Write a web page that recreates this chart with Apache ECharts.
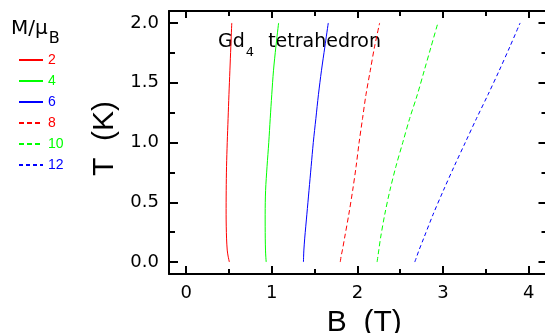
<!DOCTYPE html>
<html>
<head>
<meta charset="utf-8">
<script src="https://cdn.jsdelivr.net/npm/echarts@6/dist/echarts.min.js"></script>
<style>html,body{margin:0;padding:0;background:#fff}#c{width:545px;height:333px}</style>
</head>
<body>
<div id="c"></div>
<script>
// Temperature (K) sampling points (y values)
const temperatureK = [0, 0.05, 0.1, 0.2, 0.4, 0.6, 0.8, 1.0, 1.2, 1.4, 1.6, 1.8, 2.0];
// Field B (T) at which magnetization reaches M/muB
const fieldM2  = [0.505, 0.49, 0.48, 0.472, 0.467, 0.468, 0.472, 0.48, 0.49, 0.50, 0.511, 0.522, 0.533];
const fieldM4  = [0.935, 0.93, 0.927, 0.924, 0.923, 0.928, 0.945, 0.965, 0.982, 1.0, 1.02, 1.048, 1.08];
const fieldM6  = [1.37, 1.372, 1.375, 1.385, 1.41, 1.435, 1.46, 1.485, 1.515, 1.545, 1.58, 1.62, 1.66];
const fieldM8  = [1.80, 1.81, 1.825, 1.85, 1.90, 1.945, 1.985, 2.02, 2.06, 2.10, 2.15, 2.20, 2.26];
const fieldM10 = [2.23, 2.24, 2.25, 2.27, 2.32, 2.38, 2.45, 2.53, 2.61, 2.70, 2.78, 2.86, 2.94];
const fieldM12 = [2.67, 2.695, 2.72, 2.775, 2.885, 3.005, 3.13, 3.26, 3.39, 3.525, 3.655, 3.78, 3.90];

const seriesNames = ['2', '4', '6', '8', '10', '12'];
const xMajorTicks = [0, 1, 2, 3, 4];
const xMinorTicks = [0.5, 1.5, 2.5, 3.5];
const yMajorTicks = [0, 0.5, 1.0, 1.5, 2.0];
const yMinorTicks = [0.25, 0.75, 1.25, 1.75];

const fields = [fieldM2, fieldM4, fieldM6, fieldM8, fieldM10, fieldM12];
const colors = ['#ff0000', '#00ff00', '#0000ff', '#ff0000', '#00ff00', '#0000ff'];
const dashes = ['solid', 'solid', 'solid', [5, 3], [5, 3], [4, 3]];

const X_MIN = -0.2, X_MAX = 4.22, Y_MIN = -0.1, Y_MAX = 2.1;
const NUM_FONT = 'DejaVu Sans';
const NARROW_FONT = "'Liberation Sans Narrow', 'Liberation Sans', sans-serif";

function xAxisDef(pos, ticks, len, showLabel, showLine, name) {
  const a = {
    type: 'value', position: pos, min: X_MIN, max: X_MAX,
    axisLine: { show: showLine, onZero: false, lineStyle: { color: '#000', width: 2 } },
    axisTick: { show: true, inside: true, length: len, customValues: ticks, lineStyle: { color: '#000', width: 2 } },
    axisLabel: { show: showLabel, customValues: xMajorTicks, margin: 10, color: '#000',
      fontFamily: NUM_FONT, fontSize: 18, formatter: v => String(v) },
    splitLine: { show: false }
  };
  if (name) {
    a.name = name; a.nameLocation = 'middle'; a.nameGap = 34;
    a.nameTextStyle = { fontFamily: NARROW_FONT, fontSize: 30, color: '#000', padding: [0, 0, 0, 12] };
  }
  return a;
}
function yAxisDef(pos, ticks, len, showLabel, showLine, name) {
  const a = {
    type: 'value', position: pos, min: Y_MIN, max: Y_MAX,
    axisLine: { show: showLine, onZero: false, lineStyle: { color: '#000', width: 2 } },
    axisTick: { show: true, inside: true, length: len, customValues: ticks, lineStyle: { color: '#000', width: 2 } },
    axisLabel: { show: showLabel, customValues: yMajorTicks, margin: 10, color: '#000',
      fontFamily: NUM_FONT, fontSize: 18, formatter: v => v.toFixed(1) },
    splitLine: { show: false }
  };
  if (name) {
    a.name = name; a.nameLocation = 'middle'; a.nameGap = 31; a.nameRotate = 90;
    a.nameTextStyle = { fontFamily: NARROW_FONT, fontSize: 30, color: '#000', padding: [0, 0, 0, 8] };
  }
  return a;
}

const chart = echarts.init(document.getElementById('c'), null, { renderer: 'canvas' });
chart.setOption({
  animation: false,
  backgroundColor: '#fff',
  grid: { left: 169, top: 11, width: 378.5, height: 263, containLabel: false, outerBoundsMode: 'none' },
  xAxis: [
    xAxisDef('bottom', xMajorTicks, 8, true, true, 'B  (T)'),
    xAxisDef('bottom', xMinorTicks, 5, false, false),
    xAxisDef('top', xMajorTicks, 7, false, true),
    xAxisDef('top', xMinorTicks, 5, false, false)
  ],
  yAxis: [
    yAxisDef('left', yMajorTicks, 9, true, true, 'T  (K)'),
    yAxisDef('left', yMinorTicks, 6, false, false),
    yAxisDef('right', yMajorTicks, 9, false, true),
    yAxisDef('right', yMinorTicks, 6, false, false)
  ],
  legend: {
    orient: 'vertical', left: 18, top: 53, padding: 0,
    itemWidth: 24, itemHeight: 14, itemGap: 7,
    itemStyle: { opacity: 0 },
    textStyle: { fontFamily: NARROW_FONT, fontSize: 14 },
    data: seriesNames.map((n, i) => ({ name: n, textStyle: { color: colors[i] } }))
  },
  graphic: [
    { type: 'text', left: 11, top: 19, silent: true,
      style: { text: '{m|M/μ}{b|B}', rich: {
        m: { fontFamily: NUM_FONT, fontSize: 20, lineHeight: 24, verticalAlign: 'top', fill: '#000' },
        b: { fontFamily: NUM_FONT, fontSize: 16, lineHeight: 16, verticalAlign: 'top', padding: [12, 0, 0, 1], fill: '#000' }
      } } },
    { type: 'text', left: 218, top: 33, silent: true,
      style: { text: '{a|Gd}{s|4}{a|  tetrahedron}', rich: {
        a: { fontFamily: NUM_FONT, fontSize: 19, lineHeight: 24, verticalAlign: 'top', fill: '#000' },
        s: { fontFamily: NUM_FONT, fontSize: 13, lineHeight: 13, verticalAlign: 'top', padding: [13, 2, 0, 1], fill: '#000' }
      } } }
  ],
  series: fields.map((f, i) => ({
    name: seriesNames[i], type: 'line', xAxisIndex: 0, yAxisIndex: 0,
    data: f.map((b, k) => [b, temperatureK[k]]),
    symbol: 'none', smooth: 0.3, clip: true,
    lineStyle: { color: colors[i], width: 1, type: dashes[i] },
    itemStyle: { color: colors[i] }
  }))
});
</script>
</body>
</html>
